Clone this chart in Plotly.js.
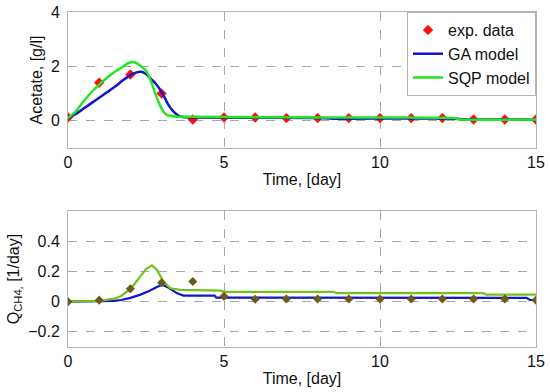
<!DOCTYPE html>
<html>
<head>
<meta charset="utf-8">
<script src="https://cdn.plot.ly/plotly-3.0.1.min.js"></script>
<style>html,body{margin:0;padding:0;background:#fff}#chart{width:550px;height:392px}</style>
</head>
<body>
<div id="chart"></div>
<script>
// Top panel: acetate
var expT = [0,1,2,3,4,5,6,7,8,9,10,11,12,13,14,15];
var expAcetate = [0.12,1.4,1.7,1.0,0.05,0.12,0.12,0.1,0.1,0.1,0.1,0.1,0.1,0.05,0.05,0.05];

var gaAcT = [0,0.25,0.5,0.75,1,1.25,1.5,1.75,2,2.2,2.35,2.5,2.65,2.8,2.95,3.1,3.2,3.3,3.4,3.5,3.6,3.8,4,8,8.5,12.5,12.6,15];
var gaAc  = [0.1,0.25,0.45,0.65,0.85,1.05,1.25,1.48,1.68,1.78,1.8,1.72,1.55,1.38,1.15,0.85,0.62,0.45,0.32,0.22,0.16,0.13,0.12,0.1,0.08,0.08,0.06,0.05];

var sqpAcT = [0,0.25,0.5,0.75,1,1.25,1.5,1.75,1.9,2.05,2.2,2.35,2.5,2.6,2.7,2.8,2.9,3.0,3.1,3.2,3.35,3.5,4,8,12.4,12.5,15];
var sqpAc  = [0.1,0.35,0.72,1.05,1.33,1.58,1.8,1.98,2.1,2.16,2.12,2.0,1.85,1.62,1.33,1.0,0.7,0.45,0.28,0.2,0.17,0.15,0.15,0.12,0.1,0.06,0.05];

// Bottom panel: methane flow
var expQ = [0,0.01,0.085,0.125,0.133,0.035,0.016,0.018,0.018,0.018,0.018,0.018,0.018,0.018,0.018,0.01];

var gaQT = [0,1,1.5,1.7,2,2.3,2.6,2.85,3.02,3.2,3.35,3.5,3.7,4.7,4.75,14.7,14.8,15];
var gaQ  = [0,0,0.005,0.011,0.025,0.045,0.07,0.097,0.112,0.095,0.075,0.055,0.04,0.04,0.027,0.025,0.012,0.01];

var sqpQT = [0,1,1.5,1.7,2,2.32,2.5,2.69,2.85,3.06,3.28,3.6,4.9,5.0,8.5,8.6,13.3,13.4,15];
var sqpQ  = [0,0.005,0.02,0.038,0.083,0.167,0.215,0.24,0.21,0.133,0.089,0.078,0.073,0.065,0.065,0.057,0.057,0.047,0.047];

var xTicks = [0,5,10,15];

var blue = '#1414c8', green = '#22e622', green2 = '#72c21e';
var red = '#ff1010', olive = '#6b5a18';

var traces = [
  {x: expT, y: expAcetate, type:'scatter', mode:'markers', name:'exp. data',
   marker:{symbol:'diamond', size:8, color:red}, xaxis:'x', yaxis:'y'},
  {x: gaAcT, y: gaAc, type:'scatter', mode:'lines', name:'GA model',
   line:{color:blue, width:2.5, shape:'spline', smoothing:0.6}, xaxis:'x', yaxis:'y'},
  {x: sqpAcT, y: sqpAc, type:'scatter', mode:'lines', name:'SQP model',
   line:{color:green, width:2.5, shape:'spline', smoothing:0.6}, xaxis:'x', yaxis:'y'},
  {x: gaQT, y: gaQ, type:'scatter', mode:'lines', showlegend:false,
   line:{color:blue, width:2.2}, xaxis:'x2', yaxis:'y2'},
  {x: sqpQT, y: sqpQ, type:'scatter', mode:'lines', showlegend:false,
   line:{color:green2, width:2.2}, xaxis:'x2', yaxis:'y2'},
  {x: expT, y: expQ, type:'scatter', mode:'markers', showlegend:false,
   marker:{symbol:'diamond', size:7, color:olive}, xaxis:'x2', yaxis:'y2'}
];

var font = {family:'Liberation Sans, Arial, sans-serif', size:16, color:'#111'};
var axBase = {
  showline:true, mirror:true, linecolor:'#b4b4b4', linewidth:1,
  showgrid:true, gridcolor:'#a8a8a8', griddash:'dash', gridwidth:1,
  zeroline:false, ticks:'outside', ticklen:4, tickcolor:'rgba(0,0,0,0)',
  tickfont:font
};
function ax(extra){ return Object.assign({}, axBase, extra); }

var layout = {
  width:550, height:392,
  margin:{l:68, r:14, t:12, b:45},
  paper_bgcolor:'#fff', plot_bgcolor:'#fff',
  font:font,
  showlegend:true,
  legend:{x:1, xanchor:'right', y:1, yanchor:'top', yref:'paper',
          bgcolor:'#fff', bordercolor:'#b4b4b4', borderwidth:1, font:font,
          tracegroupgap:0},
  xaxis: ax({domain:[0,1], range:[0,15], tickvals:xTicks, anchor:'y', ticklen:0,
             title:{text:'Time, [day]', font:font, standoff:3}}),
  yaxis: ax({domain:[0.594,1], range:[-1,4], tickvals:[0,2,4], anchor:'x',
             title:{text:'Acetate, [g/l]', font:font, standoff:4}}),
  xaxis2: ax({domain:[0,1], range:[0,15], tickvals:xTicks, anchor:'y2', ticklen:0,
             title:{text:'Time, [day]', font:font, standoff:3}}),
  yaxis2: ax({domain:[0,0.406], range:[-0.3,0.6], tickvals:[-0.2,0,0.2,0.4], anchor:'x2',
             title:{text:'Q<sub>CH4,</sub> [1/day]', font:font, standoff:4}})
};

Plotly.newPlot('chart', traces, layout, {displayModeBar:false, staticPlot:true});
</script>
</body>
</html>
